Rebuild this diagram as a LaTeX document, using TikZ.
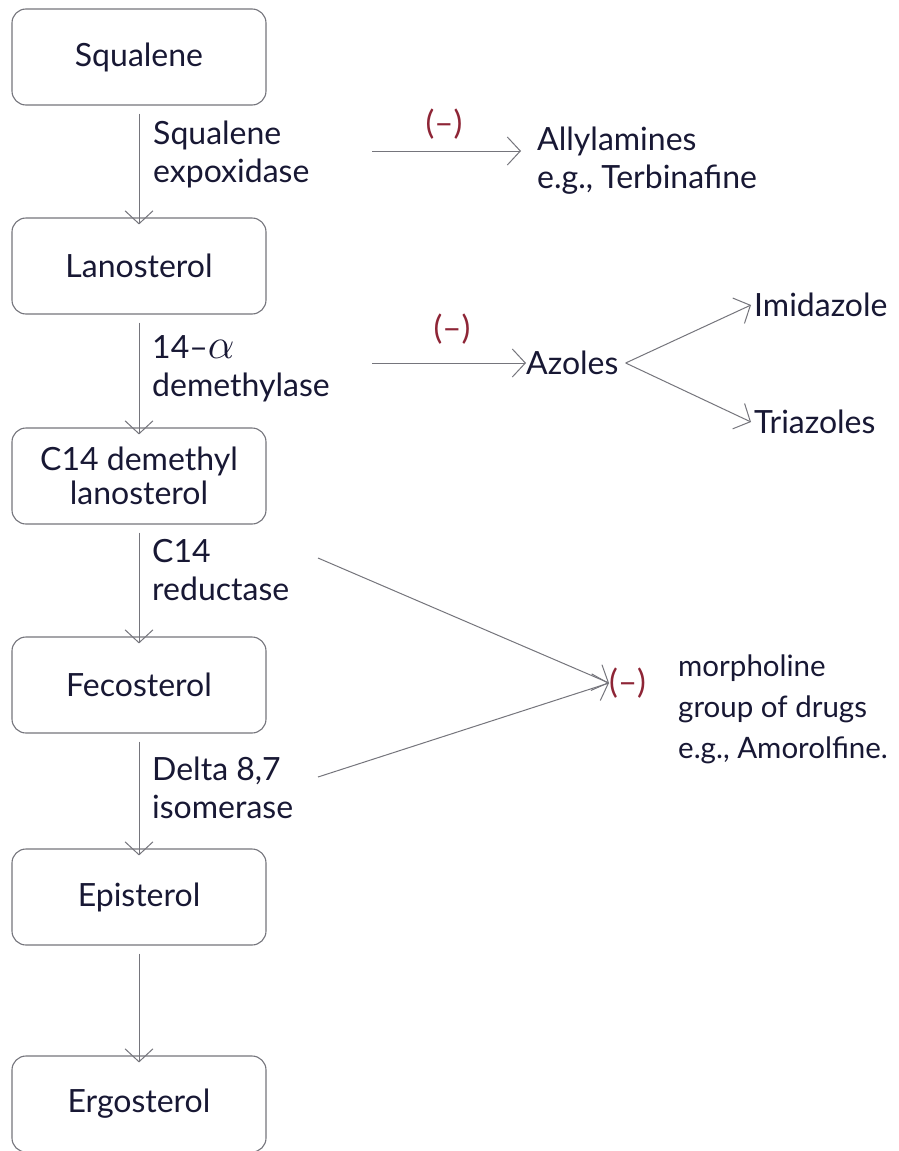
\documentclass[tikz,border=0pt]{standalone}
\usepackage{fontspec}
\setmainfont{Lato}
\usetikzlibrary{arrows.meta}
\definecolor{ink}{HTML}{181834}
\definecolor{edge}{HTML}{75757C}
\definecolor{inhib}{HTML}{8E2536}
\begin{document}
\begin{tikzpicture}[x=1pt,y=-1pt,
  stepbox/.style={draw=edge,line width=1.1pt,rounded corners=14pt,minimum width=254pt,minimum height=96pt,text=ink,font=\fontsize{32}{34}\selectfont,align=center,inner sep=0pt},
  txt/.style={text=ink,font=\fontsize{32}{38}\selectfont,align=left,inner sep=0pt},
  morph/.style={text=ink,font=\fontsize{29.5}{41}\selectfont,align=left,inner sep=0pt},
  neg/.style={text=inhib,font=\fontsize{33}{34}\selectfont,inner sep=0pt},
  flow/.style={draw=edge,line width=1pt,-{Straight Barb[length=13pt,width=28pt]}}]
\useasboundingbox (0,0) rectangle (899,1151);
\fill[white] (0,0) rectangle (899,1151);
% pathway boxes
\node[stepbox] (sq) at (139,57) {Squalene};
\node[stepbox] (la) at (139,266) {Lanosterol};
\node[stepbox] (c14) at (139,476) {C14 demethyl\\lanosterol};
\node[stepbox] (fe) at (139,685) {Fecosterol};
\node[stepbox] (ep) at (139,897) {Episterol};
\node[stepbox] (er) at (139,1104) {Ergosterol};
% enzyme labels
\node[txt,anchor=west] (e1) at (153,154) {Squalene\\expoxidase};
\node[txt,anchor=west] (e2) at (152,369) {14--\scalebox{1.7}{$\alpha$}\\demethylase};
\node[txt,anchor=west] (e3) at (152,570) {C14\\reductase};
\node[txt,anchor=west] (e4) at (152,788) {Delta 8,7\\isomerase};
% main pathway arrows
\draw[flow] (sq.south) ++(0,8) -- ([yshift=-7pt]la.north);
\draw[flow] (la.south) ++(0,8) -- ([yshift=-7pt]c14.north);
\draw[flow] (c14.south) ++(0,8) -- ([yshift=-7pt]fe.north);
\draw[flow] (fe.south) ++(0,8) -- ([yshift=-7pt]ep.north);
\draw[flow] (ep.south) ++(0,8) -- ([yshift=-7pt]er.north);
% inhibitors
\coordinate (s1) at (372,151);
\node[txt,anchor=west] (ally) at (537,161) {Allylamines\\e.g., Terbinafine};
\coordinate (t1) at (521,151);
\draw[flow] (s1) -- (t1);
\node[neg] (n1) at (444,124) {(–)};

\coordinate (s2) at (372,363);
\node[txt,anchor=west] (az) at (526,363) {Azoles};
\draw[flow] (s2) -- (az.west);
\node[neg] (n2) at (452,329) {(–)};
\node[txt,anchor=west] (im) at (754,305) {Imidazole};
\node[txt,anchor=west] (tri) at (754,422) {Triazoles};
\coordinate (fork) at ([xshift=7pt]az.east);
\draw[flow] (fork) -- ([xshift=-3pt]im.west);
\draw[flow] (fork) -- ([xshift=-3pt]tri.west);

\coordinate (s3) at (318,558);
\coordinate (s4) at (318,777);
\node[neg,anchor=west] (n3) at (609,683) {(–)};
\node[morph,anchor=north west] (mo) at (678,655) {morpholine\\group of drugs\\e.g., Amorolfine.};
\draw[flow] (s3) -- (n3.west);
\draw[flow] (s4) -- (n3.west);
\end{tikzpicture}
\end{document}
